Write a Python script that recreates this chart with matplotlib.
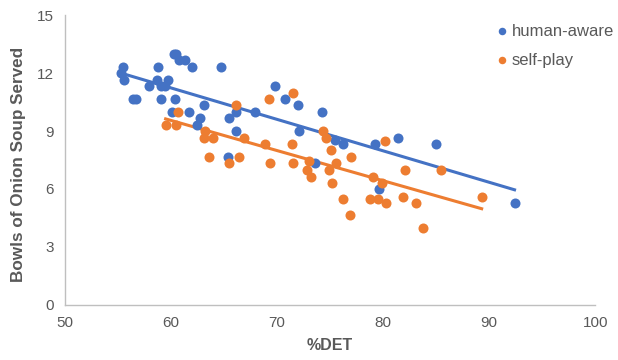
import matplotlib.pyplot as plt
import numpy as np

# human-aware points (%DET, bowls served)
ha_x = [55.5, 55.25, 55.6, 56.4, 56.7, 57.9, 58.8, 58.7, 59.1, 59.7, 59.4, 59.1,
        60.3, 60.5, 60.8, 61.3, 61.95, 60.4, 60.1, 61.7, 63.1, 62.7, 62.5, 64.7,
        65.5, 66.1, 66.1, 65.4, 69.8, 70.8, 72.0, 74.2, 67.9, 72.1, 73.6, 75.5,
        76.2, 79.2, 81.4, 85.0, 79.6, 92.4]
ha_y = [12.33, 12.02, 11.64, 10.66, 10.66, 11.33, 12.33, 11.64, 11.33, 11.64, 11.33, 10.66,
        13.0, 13.0, 12.67, 12.67, 12.33, 10.66, 10.0, 10.0, 10.35, 9.65, 9.31, 12.33,
        9.65, 10.0, 9.0, 7.67, 11.33, 10.66, 10.35, 10.0, 10.0, 9.0, 7.33, 8.54,
        8.31, 8.31, 8.62, 8.31, 5.98, 5.29]

# self-play points
sp_x = [59.5, 60.5, 60.7, 63.2, 63.1, 64.0, 63.6, 66.1, 66.9, 66.4, 65.5, 68.9,
        69.3, 69.2, 71.5, 71.4, 71.5, 73.0, 72.8, 73.2, 74.3, 74.6, 75.1, 75.6,
        74.9, 75.2, 76.2, 76.9, 77.0, 80.2, 79.1, 79.9, 78.8, 79.5, 80.3, 81.9,
        82.1, 83.1, 83.8, 85.5, 89.3]
sp_y = [9.3, 9.3, 10.0, 9.0, 8.66, 8.66, 7.67, 10.35, 8.66, 7.67, 7.33, 8.33,
        7.33, 10.66, 10.98, 8.33, 7.33, 7.45, 6.98, 6.64, 9.0, 8.66, 8.0, 7.33,
        6.98, 6.29, 5.48, 4.64, 7.65, 8.5, 6.64, 6.29, 5.48, 5.48, 5.29, 5.6,
        6.98, 5.29, 3.97, 6.98, 5.6]

x_ticks = [50, 60, 70, 80, 90, 100]
y_ticks = [0, 3, 6, 9, 12, 15]

BLUE = '#4472C4'
ORANGE = '#ED7D31'
GREY = '#595959'

plt.rcParams['font.family'] = ['Liberation Sans', 'DejaVu Sans']

fig = plt.figure(figsize=(6.18, 3.6), dpi=100)
ax = fig.add_axes([0.105, 0.153, 0.858, 0.805])

ax.scatter(ha_x, ha_y, s=52, color=BLUE, label='human-aware', zorder=3, linewidths=0)
ax.scatter(sp_x, sp_y, s=52, color=ORANGE, label='self-play', zorder=3, linewidths=0)

# linear trendlines over each series' range
for xs, ys, c in [(ha_x, ha_y, BLUE), (sp_x, sp_y, ORANGE)]:
    k, b = np.polyfit(xs, ys, 1)
    xx = np.array([min(xs), max(xs)])
    ax.plot(xx, k * xx + b, color=c, lw=2.2, zorder=2)

ax.set_xlim(50, 100)
ax.set_ylim(0, 15)
ax.set_xticks(x_ticks)
ax.set_yticks(y_ticks)
ax.tick_params(length=0, labelsize=11, labelcolor=GREY, pad=8)

for s in ['top', 'right']:
    ax.spines[s].set_visible(False)
for s in ['left', 'bottom']:
    ax.spines[s].set_color('#BFBFBF')
    ax.spines[s].set_linewidth(1.0)

ax.set_xlabel('%DET', fontsize=11.5, fontweight='bold', color=GREY, labelpad=6)
ax.set_ylabel('Bowls of Onion Soup Served', fontsize=12.3, fontweight='bold',
              color=GREY, labelpad=7)
ax.yaxis.set_label_coords(-0.073, 0.485)

leg = ax.legend(loc='upper right', bbox_to_anchor=(1.055, 1.005), frameon=False,
                fontsize=12, handletextpad=0.0, labelspacing=0.85,
                markerscale=0.75, handlelength=1.2, borderaxespad=0.2)
for t in leg.get_texts():
    t.set_color(GREY)

fig.savefig('out.png', dpi=100)
